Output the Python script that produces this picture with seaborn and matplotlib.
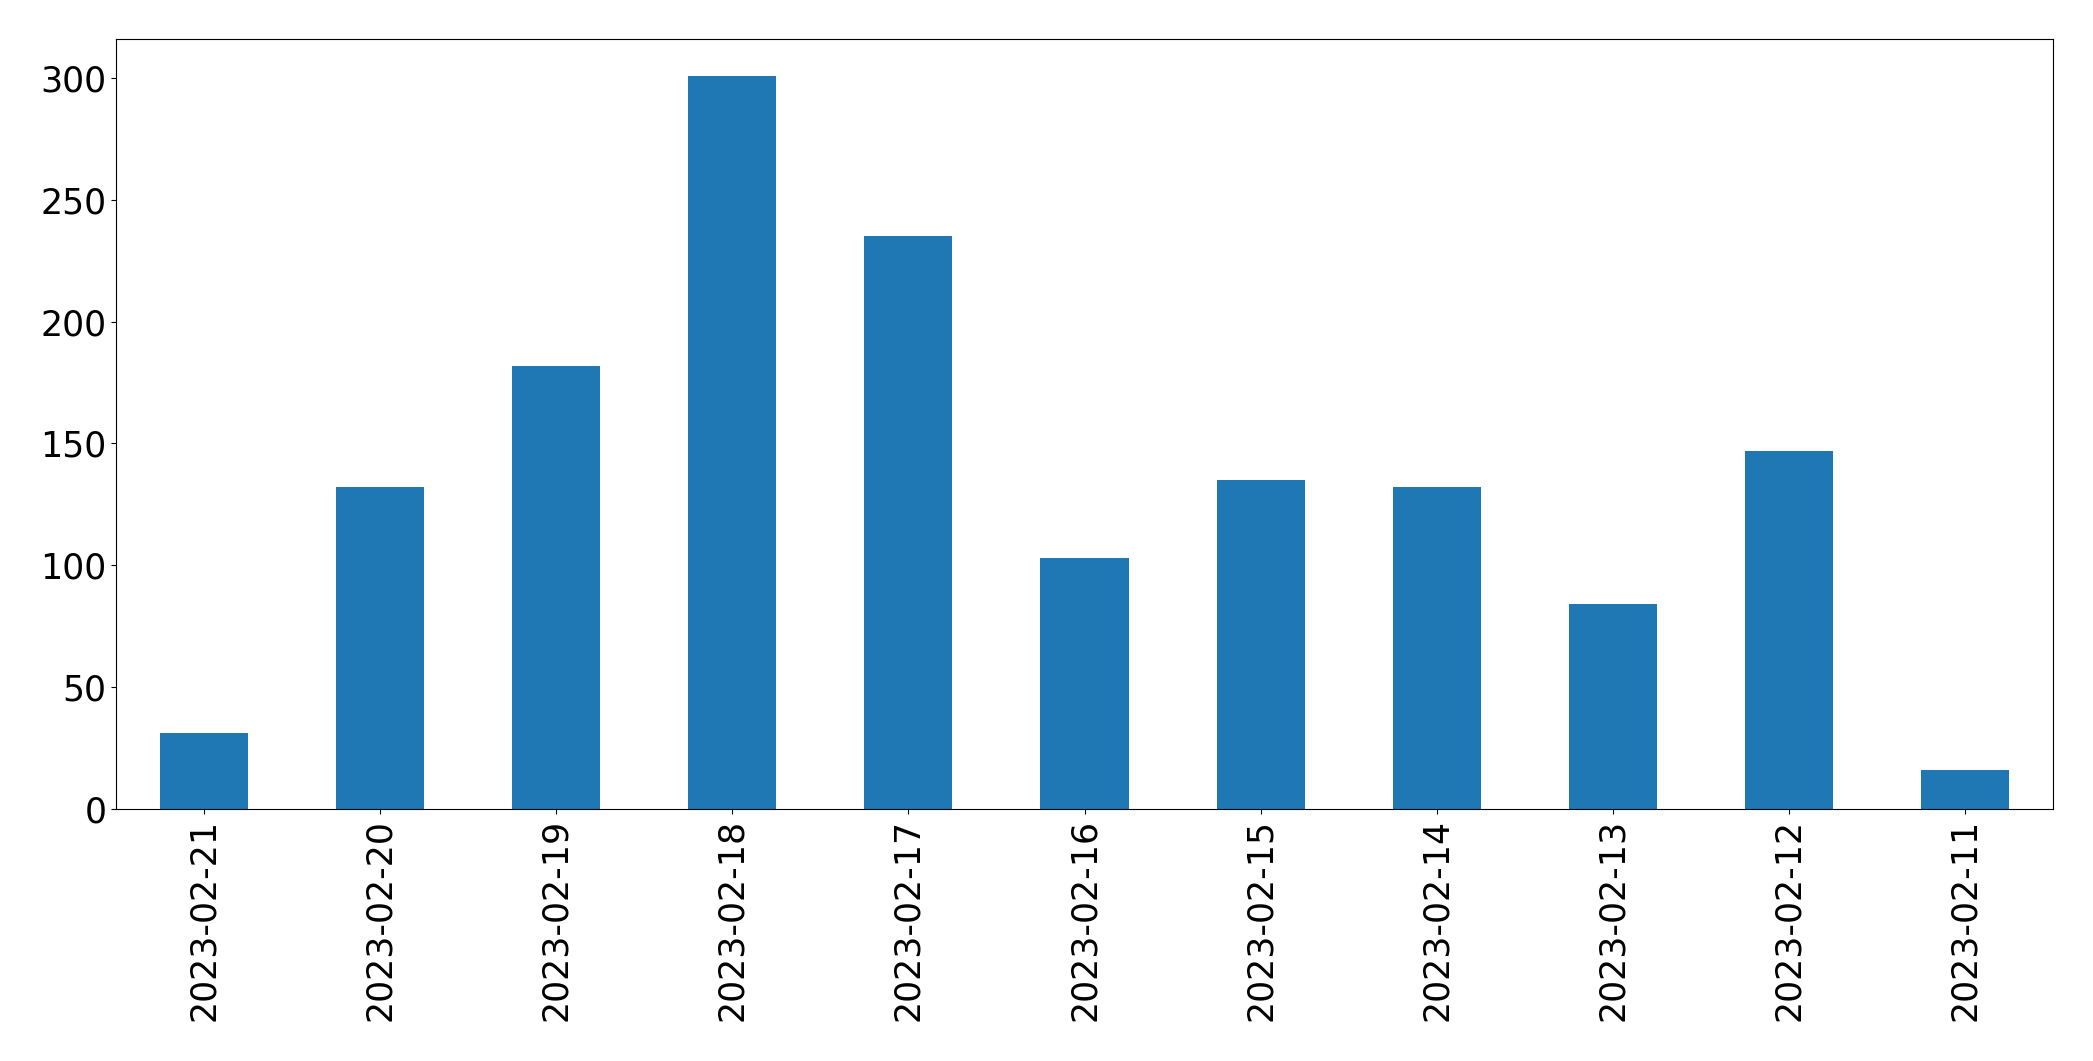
import matplotlib
matplotlib.use("Agg")
import matplotlib.pyplot as plt
import seaborn as sns
import pandas as pd

dates = ["2023-02-21", "2023-02-20", "2023-02-19", "2023-02-18", "2023-02-17",
         "2023-02-16", "2023-02-15", "2023-02-14", "2023-02-13", "2023-02-12",
         "2023-02-11"]
counts = [31, 132, 182, 301, 235, 103, 135, 132, 84, 147, 16]

df = pd.DataFrame({"date": dates, "count": counts})

fig = plt.figure(figsize=(20.93, 10.61), dpi=100)
ax = fig.add_axes([116 / 2093, 1 - 809 / 1061, (2053 - 116) / 2093, (809 - 39) / 1061])

sns.barplot(data=df, x="date", y="count", order=dates, color="#1f77b4",
            saturation=1, width=0.5, ax=ax)

ax.set_xlim(-0.5, len(dates) - 0.5)
ax.set_ylim(0, 316)
ax.set_xlabel("")
ax.set_ylabel("")
ax.tick_params(axis="both", labelsize=25)
ax.tick_params(axis="x", labelrotation=90)
for s in ax.spines.values():
    s.set_color("black")

fig.savefig("out.png", dpi=100)
